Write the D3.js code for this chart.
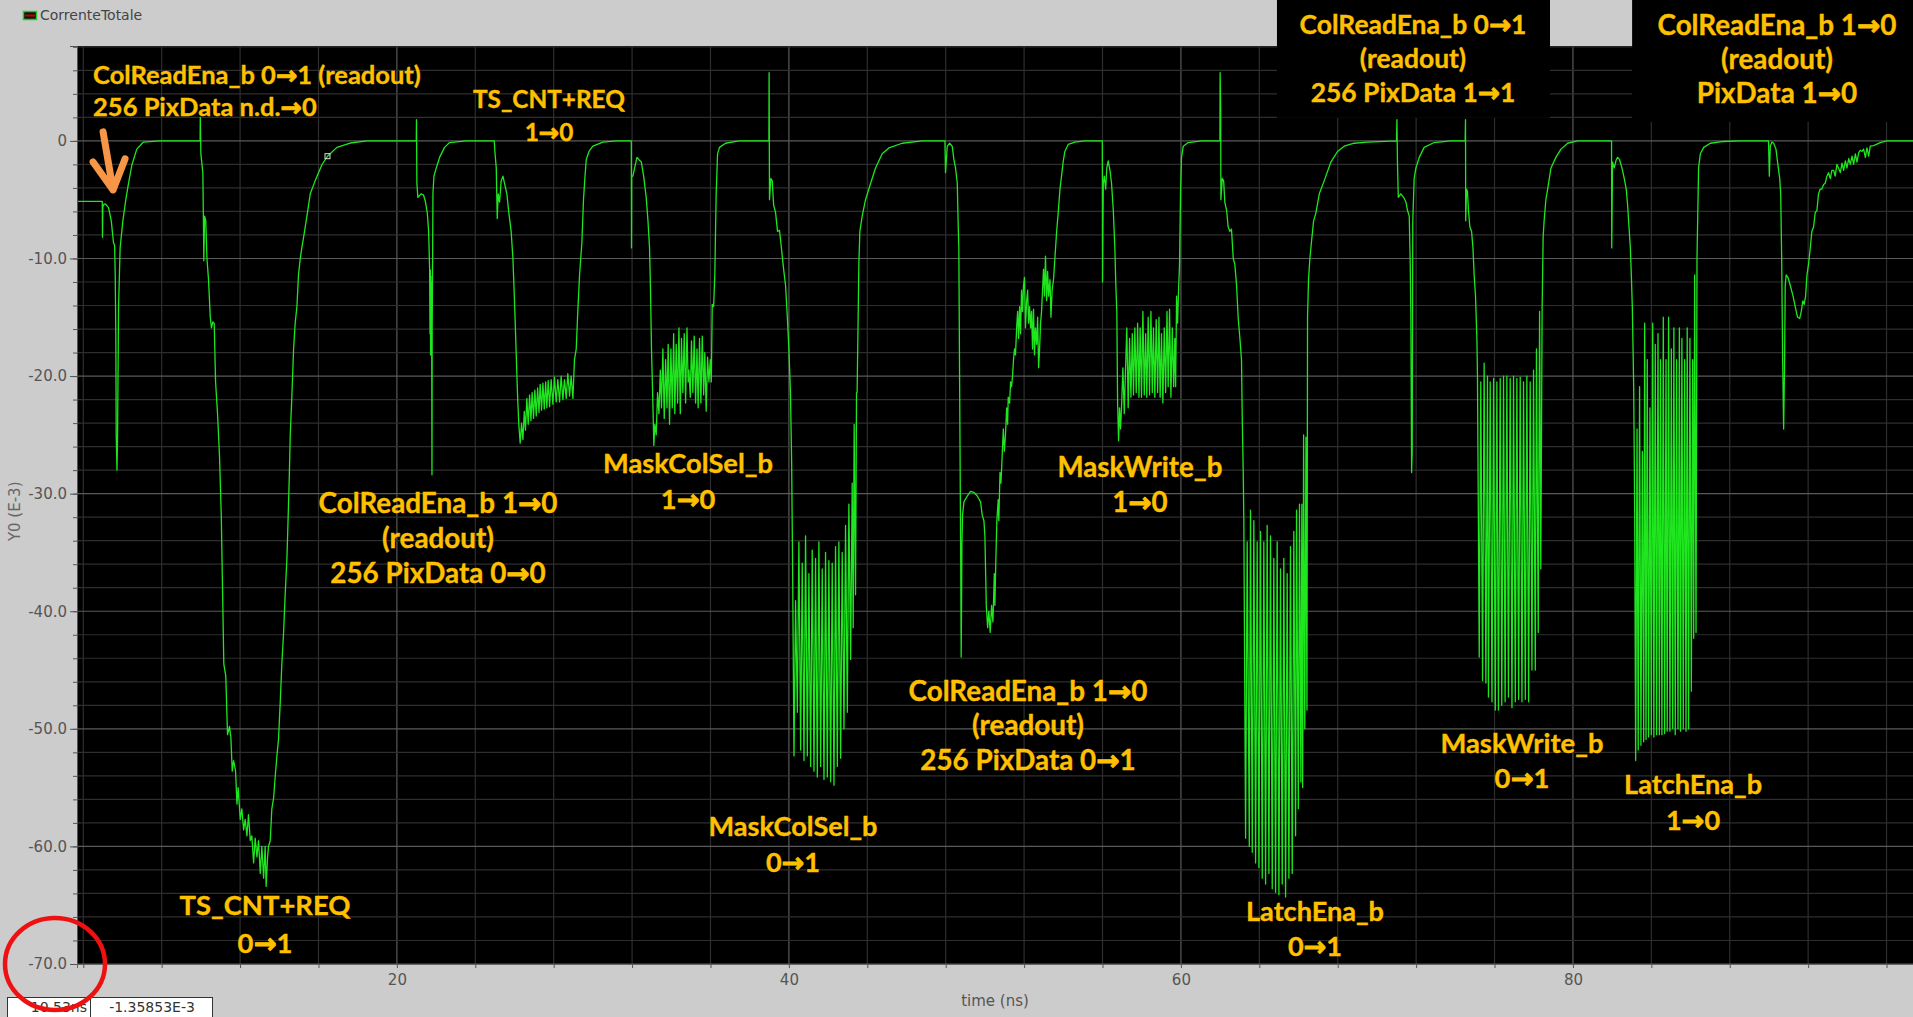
<!DOCTYPE html>
<html>
<head>
<meta charset="utf-8">
<script src="https://cdn.jsdelivr.net/npm/d3@7"></script>
<style>
  body { margin: 0; background: #cccccc; }
  svg { display: block; }
</style>
</head>
<body>
<svg id="chart" width="1913" height="1017"></svg>
<script>
// CorrenteTotale, time in ns, current in E-3 units
const readout01 = [[3.6,-5.14],[4.97,-5.14],[4.98,-8.2],[5.0,-5.6],[5.05,-5.4],[5.12,-5.36],[5.2,-5.5],[5.29,-5.68],[5.43,-6.82],[5.54,-8.64],[5.6,-8.9],[5.63,-11.4],[5.66,-16.4],[5.68,-25.0],[5.72,-28.0],[5.75,-25.0],[5.8,-14.1],[5.88,-9.1],[6.02,-6.8],[6.17,-5.0],[6.31,-3.6],[6.48,-2.05],[6.73,-0.7],[7.07,-0.1],[7.9,0],[9.96,0]];

const tsCnt01 = [[9.96,0],[9.97,2.0],[10.0,-1.1],[10.1,-2.7],[10.13,-6.8],[10.15,-10.2],[10.19,-6.4],[10.25,-6.8],[10.31,-10],[10.39,-11.8],[10.48,-15],[10.54,-15.9],[10.61,-15.4],[10.68,-15.5],[10.75,-20.5],[10.85,-23.2],[10.95,-26.8],[11.04,-31.8],[11.11,-38.6],[11.17,-44.5],[11.27,-45.5],[11.36,-50.5],[11.46,-49.8],[11.53,-50.7],[11.6,-53.6],[11.67,-52.7],[11.77,-53.6],[11.84,-56.4],[11.9,-55.0],[12.01,-57.7],[12.09,-56.8],[12.18,-58.6],[12.26,-57.7],[12.35,-59.1],[12.43,-57.3],[12.52,-59.5],[12.6,-59.1],[12.69,-61.4],[12.77,-59.3],[12.86,-60.9],[12.94,-59.5],[13.03,-62.3],[13.11,-60.0],[13.2,-62.7],[13.28,-60.0],[13.33,-63.4],[13.4,-61.0],[13.45,-60.0],[13.54,-59.5],[13.62,-56.8],[13.71,-55.9],[13.79,-54.1],[13.88,-52.3],[13.96,-50.9],[14.05,-47.7],[14.13,-44.5],[14.22,-41.8],[14.3,-38.6],[14.39,-35.5],[14.44,-32.7],[14.51,-28.6],[14.56,-25.0],[14.64,-21.8],[14.73,-17.7],[14.81,-15.5],[14.9,-14.1],[14.98,-11.4],[15.07,-10.0],[15.15,-9.1],[15.24,-8.2],[15.41,-6.4],[15.58,-4.5],[15.83,-3.4],[16.17,-2.05],[16.46,-1.3],[16.94,-0.55],[17.62,-0.18],[18.47,0],[20.99,0]];

const readout10a = [[20.99,0],[21.0,1.8],[21.02,-3.6],[21.07,-4.8],[21.24,-4.5],[21.36,-4.6],[21.46,-5.2],[21.55,-6.1],[21.62,-7.7],[21.67,-10.9],[21.69,-16.4],[21.71,-11],[21.72,-18.2],[21.74,-11.5],[21.76,-16.4],[21.77,-12],[21.79,-28.4],[21.8,-16],[21.82,-11],[21.84,-4.5],[21.89,-3.0],[22.01,-2.3],[22.18,-1.4],[22.43,-0.55],[22.69,-0.14],[23.54,0],[24.97,0]];

const tsCnt10 = [[24.97,0],[25.0,-0.9],[25.07,-2.3],[25.12,-6.6],[25.17,-4.5],[25.24,-5.2],[25.32,-3.4],[25.41,-3.0],[25.49,-3.6],[25.61,-4.5],[25.71,-6.1],[25.83,-7.7],[25.92,-10.0],[26.0,-13.6],[26.09,-18.2],[26.16,-21.8],[26.22,-24.1],[26.29,-25.7],[26.36,-24.0],[26.43,-25.4],[26.5,-23.0],[26.56,-24.6],[26.63,-21.9],[26.7,-24.1],[26.77,-21.6],[26.84,-23.8],[26.9,-21.4],[26.97,-23.6],[27.04,-21.2],[27.11,-23.4],[27.18,-21.0],[27.25,-23.1],[27.31,-20.7],[27.38,-22.9],[27.45,-20.6],[27.52,-22.8],[27.59,-20.5],[27.65,-22.7],[27.72,-20.4],[27.79,-22.6],[27.87,-20.3],[27.96,-22.4],[28.04,-20.1],[28.13,-22.2],[28.21,-20.3],[28.3,-22.2],[28.38,-20.0],[28.47,-22.0],[28.55,-20.3],[28.64,-21.9],[28.72,-19.8],[28.81,-21.7],[28.89,-20.0],[28.98,-21.9],[29.06,-18.6],[29.15,-17.7],[29.23,-14.5],[29.32,-11.4],[29.44,-8.6],[29.52,-5.0],[29.59,-3.2],[29.66,-1.6],[29.8,-0.9],[30.0,-0.45],[30.51,-0.1],[31.19,0],[31.96,0]];

const maskColSel10 = [[31.96,0],[31.97,-9.1],[31.98,-3.0],[32.04,-3.0],[32.13,-2.3],[32.25,-1.4],[32.35,-1.6],[32.47,-1.8],[32.59,-3.0],[32.72,-4.8],[32.81,-6.8],[32.89,-9.1],[32.94,-12.7],[32.99,-17.7],[33.06,-22.3],[33.11,-25.9],[33.16,-24.1],[33.23,-25.0],[33.3,-21.4],[33.37,-23.2],[33.44,-19.5],[33.5,-22.7],[33.57,-17.7],[33.64,-23.6],[33.71,-18.6],[33.78,-22.7],[33.84,-17.3],[33.91,-24.1],[33.98,-17.7],[34.05,-22.7],[34.12,-16.4],[34.18,-23.2],[34.25,-17.3],[34.32,-22.3],[34.39,-15.9],[34.46,-23.2],[34.52,-16.8],[34.59,-21.4],[34.66,-16.4],[34.73,-22.3],[34.8,-15.9],[34.86,-20.5],[34.9,-19.5],[34.97,-21.8],[35.03,-17.0],[35.1,-21.4],[35.17,-16.6],[35.24,-22.3],[35.31,-17.7],[35.37,-22.7],[35.44,-16.8],[35.51,-22.3],[35.58,-16.6],[35.65,-21.6],[35.71,-18.0],[35.78,-23.0],[35.85,-18.4],[35.92,-20.5],[35.99,-18.6],[36.04,-20.5],[36.09,-13.9],[36.16,-14.1],[36.22,-11.4],[36.29,-4.5],[36.36,-1.1],[36.46,-0.55],[36.77,-0.2],[37.45,0],[38.98,0]];

const maskColSel01 = [[38.98,0],[38.99,5.8],[39.01,-5.0],[39.08,-3.2],[39.15,-3.4],[39.22,-5.45],[39.32,-6.1],[39.42,-7.7],[39.52,-7.6],[39.63,-9.3],[39.73,-10.9],[39.83,-12.3],[39.92,-15.0],[40.0,-17.7],[40.08,-21.4],[40.14,-27.3],[40.19,-36.4],[40.26,-52.3],[40.34,-39.1],[40.43,-48.6],[40.51,-34.1],[40.6,-51.8],[40.68,-35.9],[40.77,-52.7],[40.85,-33.6],[40.94,-52.3],[41.02,-36.8],[41.11,-53.2],[41.19,-34.8],[41.28,-53.6],[41.36,-35.5],[41.45,-54.1],[41.53,-34.1],[41.62,-53.2],[41.7,-36.4],[41.79,-54.3],[41.87,-35.0],[41.96,-54.1],[42.04,-35.7],[42.13,-54.5],[42.21,-35.9],[42.3,-54.8],[42.38,-34.5],[42.47,-53.2],[42.55,-34.1],[42.64,-52.5],[42.72,-35.0],[42.81,-50.0],[42.89,-32.7],[42.98,-48.6],[43.06,-30.9],[43.15,-44.1],[43.23,-29.1],[43.28,-41.4],[43.33,-24.1],[43.4,-38.6],[43.45,-21.4],[43.48,-21.4],[43.57,-10.45],[43.62,-7.7],[43.74,-6.4],[43.91,-5.0],[44.17,-3.6],[44.42,-2.3],[44.76,-1.1],[45.1,-0.6],[45.78,-0.2],[46.8,0],[47.96,0]];

const readout10b = [[47.96,0],[47.99,-2.7],[48.08,-0.45],[48.2,-0.2],[48.33,-0.45],[48.42,-1.6],[48.5,-2.3],[48.59,-3.6],[48.64,-7.3],[48.67,-9.1],[48.71,-20.5],[48.76,-34.1],[48.79,-43.9],[48.83,-34.1],[48.86,-31.8],[48.93,-30.7],[49.1,-30.2],[49.27,-29.8],[49.44,-29.9],[49.61,-30.2],[49.78,-30.7],[49.86,-31.8],[49.95,-32.3],[50.0,-33.6],[50.07,-39.5],[50.14,-41.4],[50.2,-40.0],[50.27,-41.8],[50.34,-39.5],[50.41,-40.9],[50.48,-36.8],[50.51,-39.5],[50.56,-35.5],[50.61,-32.3],[50.68,-30.5],[50.71,-32.3],[50.77,-28.2],[50.82,-29.1],[50.88,-26.8],[50.94,-24.5],[50.99,-26.4],[51.05,-25.0],[51.11,-22.7],[51.16,-24.1],[51.19,-21.8],[51.26,-22.3],[51.31,-20.5],[51.36,-20.9],[51.41,-20.0],[51.46,-18.6],[51.51,-17.7],[51.56,-18.2],[51.62,-15.9],[51.67,-14.5],[51.72,-16.8],[51.77,-14.1],[51.82,-16.4],[51.87,-12.7],[51.92,-14.5],[51.97,-12.3],[52.02,-11.6],[52.07,-15.9],[52.13,-13.6],[52.18,-12.7],[52.23,-15.5],[52.28,-14.1],[52.33,-15.9],[52.38,-14.5],[52.43,-17.7],[52.48,-14.3],[52.53,-18.2],[52.58,-15.9],[52.64,-17.3],[52.69,-15.0],[52.74,-19.3],[52.79,-17.7],[52.84,-15.5],[52.89,-14.5],[52.94,-12.7],[52.99,-10.9],[53.04,-13.2],[53.09,-9.8],[53.15,-13.6],[53.2,-11.1],[53.25,-13.2],[53.32,-11.8],[53.37,-15.0],[53.43,-12.7],[53.5,-11.8],[53.57,-10.0],[53.66,-7.7],[53.74,-6.1],[53.83,-4.1],[53.91,-3.0],[53.99,-1.8],[54.08,-0.9],[54.25,-0.3],[54.59,-0.1],[55.1,0],[55.99,0]];

const maskWrite10 = [[55.99,0],[56.0,-12.0],[56.04,-3.6],[56.09,-3.0],[56.16,-4.1],[56.22,-2.3],[56.29,-1.7],[56.38,-2.5],[56.46,-3.6],[56.55,-5.9],[56.63,-9.1],[56.68,-12.3],[56.73,-14.5],[56.77,-22.3],[56.82,-25.5],[56.87,-22.7],[56.92,-24.5],[56.97,-22.7],[57.04,-19.3],[57.11,-23.2],[57.18,-19.1],[57.24,-15.9],[57.31,-22.7],[57.38,-16.8],[57.45,-21.8],[57.52,-16.4],[57.58,-21.6],[57.65,-15.9],[57.72,-21.4],[57.79,-15.5],[57.86,-21.8],[57.92,-15.9],[57.99,-21.8],[58.06,-14.5],[58.13,-21.6],[58.2,-16.4],[58.26,-21.8],[58.33,-15.0],[58.4,-21.6],[58.47,-14.5],[58.54,-21.4],[58.6,-15.9],[58.67,-21.8],[58.74,-15.2],[58.81,-21.4],[58.88,-15.0],[58.94,-21.8],[59.01,-16.4],[59.08,-22.3],[59.15,-15.9],[59.22,-21.4],[59.29,-14.5],[59.35,-20.9],[59.42,-14.3],[59.49,-21.8],[59.56,-15.9],[59.63,-20.9],[59.69,-16.8],[59.73,-20.9],[59.78,-13.2],[59.83,-15.5],[59.88,-12.7],[59.93,-10.5],[59.98,-4.5],[60.03,-1.4],[60.12,-0.45],[60.37,-0.14],[61.05,0],[61.99,0]];

const latchEna01 = [[61.99,0],[62.0,5.8],[62.03,2.7],[62.04,-5.0],[62.11,-3.2],[62.18,-3.4],[62.24,-5.2],[62.33,-5.9],[62.41,-7.3],[62.5,-7.7],[62.58,-7.5],[62.67,-10.0],[62.75,-10.5],[62.84,-12.3],[62.92,-15.0],[63.01,-16.8],[63.09,-18.6],[63.13,-23.6],[63.18,-28.2],[63.21,-32.3],[63.3,-59.3],[63.38,-34.1],[63.49,-60.0],[63.55,-31.4],[63.64,-60.5],[63.72,-32.3],[63.81,-61.4],[63.89,-34.1],[63.98,-61.8],[64.06,-33.2],[64.15,-62.7],[64.23,-34.1],[64.32,-63.2],[64.4,-32.7],[64.49,-62.3],[64.57,-33.6],[64.66,-63.6],[64.74,-35.5],[64.83,-63.9],[64.91,-34.1],[65.0,-64.1],[65.08,-36.4],[65.17,-63.2],[65.25,-35.5],[65.34,-64.3],[65.42,-36.8],[65.51,-62.7],[65.59,-34.5],[65.68,-62.3],[65.76,-33.2],[65.85,-59.1],[65.9,-31.4],[65.99,-56.8],[66.05,-30.9],[66.12,-54.5],[66.17,-30.9],[66.21,-55.0],[66.26,-25.0],[66.32,-50.0],[66.38,-25.2],[66.43,-48.4],[66.46,-15.0],[66.51,-11.8],[66.58,-10.0],[66.66,-8.6],[66.77,-6.8],[66.89,-6.1],[67.06,-4.5],[67.31,-3.4],[67.65,-1.8],[67.99,-0.9],[68.33,-0.45],[68.84,-0.2],[69.52,-0.1],[71.0,0]];

const readout01b = [[71.0,0],[71.02,1.8],[71.05,-2.0],[71.09,-4.8],[71.22,-4.5],[71.36,-4.8],[71.48,-5.2],[71.56,-5.9],[71.65,-6.4],[71.7,-10.5],[71.73,-14.5],[71.77,-28.2],[71.8,-26.4],[71.83,-6.8],[71.9,-3.2],[71.99,-2.3],[72.16,-1.4],[72.41,-0.55],[72.92,-0.14],[73.77,0],[74.5,0]];

const maskWrite01 = [[74.5,0],[74.52,1.8],[74.53,-6.8],[74.57,-4.1],[74.62,-4.3],[74.67,-5.9],[74.74,-7.3],[74.83,-7.7],[74.9,-9.1],[74.96,-11.4],[75.03,-13.2],[75.1,-16.8],[75.13,-20.0],[75.22,-43.9],[75.3,-20.5],[75.39,-45.9],[75.47,-18.9],[75.56,-46.1],[75.64,-20.0],[75.69,-47.3],[75.78,-20.5],[75.87,-47.7],[75.95,-20.2],[76.04,-48.4],[76.12,-20.5],[76.2,-48.4],[76.29,-20.2],[76.37,-48.0],[76.46,-20.0],[76.54,-47.7],[76.63,-20.0],[76.71,-47.3],[76.8,-20.2],[76.89,-48.2],[76.97,-20.0],[77.06,-47.7],[77.14,-20.2],[77.23,-47.5],[77.31,-20.1],[77.4,-47.7],[77.48,-20.5],[77.57,-47.5],[77.65,-20.0],[77.74,-47.7],[77.82,-20.5],[77.91,-45.0],[77.99,-19.5],[78.08,-45.0],[78.14,-17.7],[78.23,-41.8],[78.3,-14.5],[78.36,-36.4],[78.43,-14.1],[78.48,-8.2],[78.53,-6.8],[78.62,-5.0],[78.71,-4.1],[78.88,-2.3],[79.13,-1.4],[79.39,-0.7],[79.73,-0.2],[80.24,0],[81.97,0]];

const latchEna10 = [[81.97,0],[81.98,-9.1],[82.02,-1.8],[82.11,-2.3],[82.21,-1.6],[82.28,-1.4],[82.38,-1.6],[82.5,-2.3],[82.62,-3.2],[82.72,-4.1],[82.79,-5.45],[82.86,-7.3],[82.93,-9.1],[82.98,-11.4],[83.03,-14.1],[83.1,-20.9],[83.15,-31.4],[83.2,-52.7],[83.27,-24.5],[83.33,-51.8],[83.4,-20.9],[83.47,-51.4],[83.54,-26.4],[83.61,-51.1],[83.66,-15.5],[83.73,-50.9],[83.79,-18.6],[83.86,-50.7],[83.93,-22.7],[84.0,-50.5],[84.07,-15.5],[84.13,-50.7],[84.2,-17.3],[84.27,-50.5],[84.34,-16.4],[84.41,-50.5],[84.47,-18.6],[84.54,-50.5],[84.61,-15.0],[84.68,-50.4],[84.75,-18.6],[84.81,-50.2],[84.88,-15.0],[84.95,-50.2],[85.02,-17.7],[85.09,-50.0],[85.15,-15.9],[85.22,-50.5],[85.29,-18.6],[85.36,-50.0],[85.43,-15.9],[85.49,-50.2],[85.56,-16.8],[85.63,-50.0],[85.7,-18.6],[85.77,-50.2],[85.83,-15.9],[85.9,-50.0],[85.97,-16.8],[86.04,-46.8],[86.11,-18.6],[86.16,-42.3],[86.21,-11.4],[86.28,-41.8],[86.33,-10.0],[86.41,-2.3],[86.5,-1.1],[86.67,-0.55],[87.01,-0.2],[87.69,-0.05],[88.54,0],[89.98,0]];

const readout10c = [[89.98,0],[90.02,-3.0],[90.07,-0.45],[90.15,-0.1],[90.24,-0.2],[90.36,-0.7],[90.44,-1.8],[90.55,-3.2],[90.6,-4.5],[90.65,-10.0],[90.7,-18.6],[90.75,-24.5],[90.8,-18.6],[90.83,-12.3],[90.88,-11.4],[90.97,-11.6],[91.09,-12.3],[91.23,-13.2],[91.34,-14.1],[91.46,-15.0],[91.57,-15.1],[91.65,-14.5],[91.73,-13.6],[91.8,-13.9],[91.87,-13.2],[91.94,-11.4],[92.02,-10.5],[92.11,-9.1],[92.19,-7.7],[92.28,-7.3],[92.36,-6.1],[92.45,-5.9],[92.53,-4.5],[92.62,-4.1],[92.7,-4.1],[92.79,-3.7],[92.87,-3.6],[92.96,-3.0],[93.04,-2.7],[93.13,-3.2],[93.21,-2.5],[93.3,-2.5],[93.38,-3.0],[93.47,-2.0],[93.55,-2.3],[93.64,-2.7],[93.73,-1.9],[93.81,-2.5],[93.9,-1.7],[93.98,-2.3],[94.07,-1.5],[94.15,-2.0],[94.24,-1.3],[94.32,-2.0],[94.41,-1.1],[94.49,-1.8],[94.58,-1.0],[94.66,-0.8],[94.75,-0.9],[94.83,-0.7],[94.92,-1.4],[95.0,-0.6],[95.09,-1.3],[95.17,-0.45],[95.34,-0.4],[95.68,-0.14],[96.02,0],[97.4,0]];

// cursor point on the curve and its readout
const cursorPoint = [16.46, -1.3];
const cursorText = ['10.53ns', '-1.35853E-3'];

// axis ticks
const yMajorTicks = [0, -10, -20, -30, -40, -50, -60, -70];
const xLabelTicks = [20, 40, 60, 80];

// annotations: text lines, anchor (ns, E-3) of the first line
const notes = [
  { lines: ['ColReadEna_b 0→1 (readout)', '256 PixData n.d.→0'], t: 4.5, v: 5.61, anchor: 'start', w: 328, gap: 32 },
  { lines: ['TS_CNT+REQ', '1→0'], t: 27.76, v: 3.57, w: 152, gap: 33 },
  { lines: ['ColReadEna_b 1→0', '(readout)', '256 PixData 0→0'], t: 22.1, v: -30.78, w: 239, gap: 35 },
  { lines: ['MaskColSel_b', '1→0'], t: 34.85, v: -27.38, w: 170, gap: 36 },
  { lines: ['MaskColSel_b', '0→1'], t: 40.21, v: -58.25, w: 169, gap: 36 },
  { lines: ['TS_CNT+REQ', '0→1'], t: 13.27, v: -64.97, w: 171, gap: 38 },
  { lines: ['ColReadEna_b 1→0', '(readout)', '256 PixData 0→1'], t: 52.2, v: -46.77, w: 239, gap: 34.5 },
  { lines: ['MaskWrite_b', '1→0'], t: 57.91, v: -27.72, w: 165, gap: 35 },
  { lines: ['ColReadEna_b 0→1', '(readout)', '256 PixData 1→1'], t: 71.84, v: 9.86, w: 227, gap: 34 },
  { lines: ['ColReadEna_b 1→0', '(readout)', 'PixData 1→0'], t: 90.41, v: 9.86, w: 239, gap: 34 },
  { lines: ['LatchEna_b', '0→1'], t: 66.84, v: -65.48, w: 138, gap: 35 },
  { lines: ['MaskWrite_b', '0→1'], t: 77.4, v: -51.19, w: 163, gap: 35 },
  { lines: ['LatchEna_b', '1→0'], t: 86.13, v: -54.68, w: 138, gap: 36 }
];

// black boxes behind the two top-right notes: [t0, t1, bottom value]
const noteBoxes = [[64.9, 78.83, 1.96], [83.02, 97.5, 1.62]];

// orange arrow: tail, tip, wing left, wing right (ns, E-3)
const arrowPts = [[5.01, 0.77], [5.52, -4.17], [4.5, -1.79], [6.13, -1.53]];

const wave = [].concat(readout01, tsCnt01, readout10a, tsCnt10, maskColSel10, maskColSel01,
  readout10b, maskWrite10, latchEna01, readout01b, maskWrite01, latchEna10, readout10c);

const W = 1913, H = 1017;
const plotL = 77, plotT = 46, plotR = 1913, plotB = 964;

const svg = d3.select('#chart');

const x = d3.scaleLinear().domain([3.68, 97.35]).range([plotL, plotR]);
const y = d3.scaleLinear().domain([-70, 8.07]).range([plotB, plotT]);

svg.append('rect')
  .attr('width', W).attr('height', H)
  .attr('fill', '#cccccc');

// legend
svg.append('rect')
  .attr('x', 23.5).attr('y', 11.5).attr('width', 13).attr('height', 8)
  .attr('fill', '#111').attr('stroke', '#22cc22').attr('stroke-width', 1.5);
svg.append('line')
  .attr('x1', 25).attr('x2', 35).attr('y1', 15.5).attr('y2', 15.5)
  .attr('stroke', '#c00000').attr('stroke-width', 2);
svg.append('text')
  .attr('x', 40).attr('y', 20)
  .attr('font-family', 'DejaVu Sans').attr('font-size', 14)
  .attr('fill', '#444')
  .text('CorrenteTotale');

// plot background
svg.append('rect')
  .attr('x', plotL).attr('y', plotT)
  .attr('width', plotR - plotL).attr('height', plotB - plotT)
  .attr('fill', '#000');

svg.append('clipPath').attr('id', 'plotClip')
  .append('rect')
  .attr('x', plotL).attr('y', plotT)
  .attr('width', plotR - plotL).attr('height', plotB - plotT);

const plot = svg.append('g').attr('clip-path', 'url(#plotClip)');

// grid
const xGrid = d3.range(4, 98, 4);
const yGrid = d3.range(-70, 8.1, 2);

plot.selectAll('line.vgrid')
  .data(xGrid)
  .enter().append('line')
  .attr('class', 'vgrid')
  .attr('x1', d => x(d)).attr('x2', d => x(d))
  .attr('y1', plotT).attr('y2', plotB)
  .attr('stroke', d => d % 20 === 0 ? '#5a5a5a' : '#2e2e2e')
  .attr('stroke-width', 1.2);

plot.selectAll('line.hgrid')
  .data(yGrid)
  .enter().append('line')
  .attr('class', 'hgrid')
  .attr('x1', plotL).attr('x2', plotR)
  .attr('y1', d => y(d)).attr('y2', d => y(d))
  .attr('stroke', d => d % 10 === 0 ? '#5a5a5a' : '#2e2e2e')
  .attr('stroke-width', 1.2);

// boxes behind the top-right notes
noteBoxes.forEach(function (b) {
  svg.append('rect')
    .attr('x', x(b[0])).attr('y', 0)
    .attr('width', x(b[1]) - x(b[0])).attr('height', y(b[2]))
    .attr('fill', '#000');
});

// waveform
const line = d3.line()
  .x(d => x(d[0]))
  .y(d => y(d[1]));

plot.append('path')
  .datum(wave)
  .attr('d', line)
  .attr('fill', 'none')
  .attr('stroke', '#1fe61f')
  .attr('stroke-width', 1.3)
  .attr('stroke-linejoin', 'round');

// cursor marker
plot.append('rect')
  .attr('x', x(cursorPoint[0]) - 2.5).attr('y', y(cursorPoint[1]) - 2.5)
  .attr('width', 5).attr('height', 5)
  .attr('fill', 'none').attr('stroke', '#ddd').attr('stroke-width', 1);

// y axis
const yMinor = svg.append('g')
  .attr('transform', 'translate(' + plotL + ',0)')
  .call(d3.axisLeft(y).tickValues(yGrid).tickSize(4).tickFormat(''));
yMinor.select('.domain').remove();
yMinor.selectAll('line').attr('stroke', '#555');

const yAxis = svg.append('g')
  .attr('transform', 'translate(' + plotL + ',0)')
  .call(d3.axisLeft(y).tickValues(yMajorTicks).tickSize(7).tickPadding(3)
    .tickFormat(d => d === 0 ? '0' : d.toFixed(1)));
yAxis.select('.domain').attr('stroke', '#555');
yAxis.selectAll('line').attr('stroke', '#555');
yAxis.selectAll('text')
  .attr('font-family', 'DejaVu Sans').attr('font-size', 15).attr('fill', '#555');

// x axis
const xAxis = svg.append('g')
  .attr('transform', 'translate(0,' + plotB + ')')
  .call(d3.axisBottom(x).tickValues(xGrid).tickSize(4).tickPadding(6)
    .tickFormat(d => xLabelTicks.indexOf(d) >= 0 ? d : ''));
xAxis.select('.domain').attr('stroke', '#666');
xAxis.selectAll('line').attr('stroke', '#555');
xAxis.selectAll('text')
  .attr('font-family', 'DejaVu Sans').attr('font-size', 15).attr('fill', '#555');

svg.append('text')
  .attr('x', 995).attr('y', 1006)
  .attr('text-anchor', 'middle')
  .attr('font-family', 'DejaVu Sans').attr('font-size', 15).attr('fill', '#555')
  .text('time (ns)');

svg.append('text')
  .attr('transform', 'translate(20,' + y(-31.5) + ') rotate(-90)')
  .attr('text-anchor', 'middle')
  .attr('font-family', 'DejaVu Sans').attr('font-size', 15).attr('fill', '#666')
  .text('Y0 (E-3)');

// annotations
function addParts(t, str) {
  str.split('→').forEach(function (p, i) {
    if (i > 0) {
      t.append('tspan')
        .attr('font-family', 'DejaVu Sans')
        .attr('font-weight', 'bold')
        .attr('stroke', '#ffc000')
        .attr('stroke-width', 0.9)
        .text('→');
    }
    if (p) t.append('tspan').text(p);
  });
}

notes.forEach(function (n) {
  const g = svg.append('g')
    .attr('font-family', 'Lato')
    .attr('font-weight', 'bold')
    .attr('fill', '#ffc000');
  const probe = g.append('text').attr('font-size', 20);
  addParts(probe, n.lines[0]);
  const fs = 20 * n.w / probe.node().getComputedTextLength();
  probe.remove();
  n.lines.forEach(function (str, i) {
    const t = g.append('text')
      .attr('x', x(n.t))
      .attr('y', y(n.v) + i * n.gap)
      .attr('dy', '0.36em')
      .attr('text-anchor', n.anchor || 'middle')
      .attr('font-size', fs)
      .attr('stroke', '#ffc000')
      .attr('stroke-width', 0.35);
    addParts(t, str);
  });
});

// orange arrow
svg.append('path')
  .attr('d', 'M' + x(arrowPts[0][0]) + ',' + y(arrowPts[0][1]) +
    'L' + x(arrowPts[1][0]) + ',' + y(arrowPts[1][1]) +
    'M' + x(arrowPts[2][0]) + ',' + y(arrowPts[2][1]) +
    'L' + x(arrowPts[1][0]) + ',' + y(arrowPts[1][1]) +
    'L' + x(arrowPts[3][0]) + ',' + y(arrowPts[3][1]))
  .attr('fill', 'none')
  .attr('stroke', '#f79646')
  .attr('stroke-width', 7)
  .attr('stroke-linecap', 'round')
  .attr('stroke-linejoin', 'round');

// cursor readout boxes
svg.append('rect')
  .attr('x', 7.5).attr('y', 997.5).attr('width', 83).attr('height', 24)
  .attr('fill', '#fff').attr('stroke', '#333');
svg.append('rect')
  .attr('x', 90.5).attr('y', 997.5).attr('width', 122).attr('height', 24)
  .attr('fill', '#fff').attr('stroke', '#333');
svg.append('text')
  .attr('x', 87).attr('y', 1012).attr('text-anchor', 'end')
  .attr('font-family', 'DejaVu Sans').attr('font-size', 14).attr('fill', '#333')
  .text(cursorText[0]);
svg.append('text')
  .attr('x', 152).attr('y', 1012).attr('text-anchor', 'middle')
  .attr('font-family', 'DejaVu Sans').attr('font-size', 14).attr('fill', '#333')
  .text(cursorText[1]);

// red ring round the -70 label
svg.append('ellipse')
  .attr('cx', plotL - 22).attr('cy', y(-70))
  .attr('rx', 50).attr('ry', 46)
  .attr('fill', 'none')
  .attr('stroke', '#ee1111')
  .attr('stroke-width', 4.5);
</script>
</body>
</html>
